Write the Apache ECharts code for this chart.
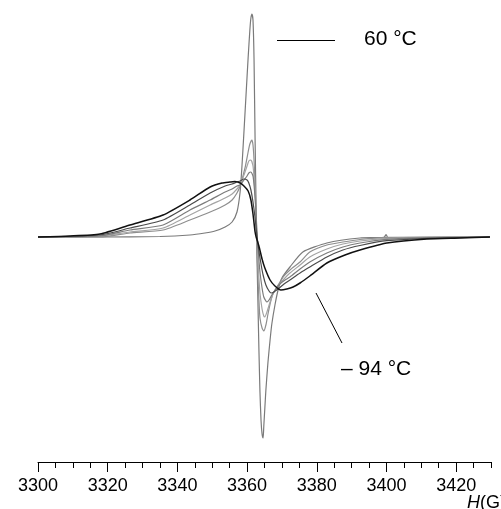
<!DOCTYPE html>
<html>
<head>
<meta charset="utf-8">
<script src="https://cdn.jsdelivr.net/npm/echarts@6/dist/echarts.min.js"></script>
<style>
  html, body { margin: 0; padding: 0; background: #fff; }
  #chart { width: 501px; height: 509px; }
</style>
</head>
<body>
<div id="chart"></div>
<script>
// EPR first-derivative spectra, magnetic field H in gauss vs. signal (arb. units)

// Tick positions on the field axis
const majorTicks = [3300, 3320, 3340, 3360, 3380, 3400, 3420];
const minorTicks = [3305, 3310, 3315, 3325, 3330, 3335, 3345, 3350, 3355,
                    3365, 3370, 3375, 3385, 3390, 3395, 3405, 3410, 3415, 3425, 3430];

// 60 °C – narrowest line
const field60 = [3300, 3317.8, 3335.0, 3343.6, 3347.9, 3350.8, 3353.7, 3355.7, 3357.1, 3358.0,
  3358.5, 3359.1, 3359.7, 3360.3, 3360.8, 3361.1, 3361.4, 3361.7, 3362.0, 3362.3,
  3362.6, 3362.8, 3363.1, 3363.4, 3363.7, 3364.0, 3364.3, 3364.6, 3364.8, 3365.1,
  3365.4, 3366.0, 3366.6, 3367.1, 3368.0, 3368.9, 3370.0, 3372.3, 3376.0, 3382.9,
  3392.4, 3399.3, 3399.9, 3400.4, 3403.9, 3429.7];
const signal60 = [0, 0, 0.5, 2, 4, 6, 10, 15, 25, 45,
  69, 105, 142, 179, 207, 219, 223, 217, 177, 97,
  27, -13, -63, -113, -155, -183, -197, -201, -189, -171,
  -153, -125, -103, -87, -68, -53, -41, -30, -15, -6,
  -1, -0.3, 2.5, -0.5, -0.5, 0];

// intermediate temperatures
const fieldT2 = [3300, 3317.8, 3326.4, 3335.9, 3343.6, 3349.4, 3353.7, 3355.7, 3357.1, 3358.0,
  3359.4, 3360.3, 3360.8, 3361.4, 3361.7, 3362.0, 3362.3, 3362.6, 3362.8, 3363.1,
  3363.4, 3363.7, 3364.3, 3364.8, 3365.4, 3366.0, 3366.6, 3367.4, 3368.9, 3370.6,
  3372.3, 3375.2, 3378.0, 3382.9, 3387.5, 3392.4, 3400.1, 3412.5, 3429.7];
const signalT2 = [0, 0, 4, 7, 17, 25, 32, 37, 44, 51,
  69, 85, 93, 97, 92, 77, 52, 22, -8, -38,
  -63, -81, -91, -94, -88, -77, -67, -57, -48, -39,
  -33, -25, -15, -8, -5, -2.5, -0.3, 0, 0];

const fieldT3 = [3300, 3317.8, 3326.4, 3335.9, 3343.6, 3349.4, 3353.7, 3355.7, 3357.1, 3358.0,
  3359.1, 3360.0, 3360.5, 3361.1, 3361.7, 3362.0, 3362.3, 3362.6, 3362.8, 3363.1,
  3363.4, 3363.7, 3364.3, 3364.8, 3365.1, 3365.7, 3366.6, 3367.7, 3368.9, 3370.6,
  3372.3, 3375.2, 3378.0, 3382.9, 3387.5, 3392.4, 3400.1, 3412.5, 3429.7];
const signalT3 = [0, 1, 5, 9, 22, 32, 39, 43, 48, 52,
  62, 71, 76, 77, 71, 59, 42, 22, 1, -21,
  -41, -56, -72, -79, -80, -75, -65, -55, -49, -42,
  -36, -28, -20, -12, -7, -4, -1.3, -0.3, 0];

const fieldT4 = [3300, 3317.8, 3326.4, 3335.9, 3343.6, 3349.4, 3353.7, 3355.7, 3357.1, 3358.0,
  3359.1, 3360.0, 3360.5, 3361.1, 3361.7, 3362.0, 3362.3, 3362.6, 3362.8, 3363.1,
  3363.4, 3363.7, 3364.3, 3364.8, 3365.4, 3365.7, 3366.3, 3367.1, 3368.3, 3369.4,
  3370.9, 3372.3, 3375.2, 3378.0, 3382.9, 3387.5, 3392.4, 3400.1, 3412.5, 3429.7];
const signalT4 = [0, 1, 7, 12, 27, 37, 45, 48, 51, 52,
  57, 61, 64, 65, 61, 52, 39, 23, 7, -9,
  -23, -35, -51, -60, -64, -65, -63, -58, -52, -47,
  -43, -40, -32, -25, -16, -10, -6, -2.3, -0.6, 0];

const fieldT5 = [3300, 3317.8, 3326.4, 3335.9, 3343.6, 3349.4, 3353.7, 3355.7, 3357.1, 3358.0,
  3359.1, 3360.0, 3360.5, 3361.1, 3361.7, 3362.3, 3362.8, 3363.4, 3364.0, 3364.6,
  3365.4, 3366.3, 3366.9, 3367.7, 3368.9, 3370.6, 3372.3, 3375.2, 3378.0, 3382.9,
  3387.5, 3392.4, 3400.1, 3412.5, 3429.7];
const signalT5 = [0, 2, 9, 17, 32, 44, 51, 53, 55, 56,
  58, 57, 54, 47, 35, 19, 2, -14, -27, -38,
  -48, -54, -56, -55, -52, -47, -43, -36, -30, -20,
  -13, -8.5, -3.7, -1.3, 0];

// −94 °C – broadest line
const fieldM94 = [3300, 3309.2, 3317.8, 3326.4, 3335.9, 3343.6, 3349.4, 3352.8, 3355.1, 3356.5,
  3358.0, 3359.1, 3360.3, 3361.1, 3361.7, 3362.3, 3362.6, 3363.4, 3364.3, 3365.1,
  3366.6, 3368.0, 3369.7, 3371.4, 3373.2, 3375.2, 3378.0, 3382.9, 3388.1, 3392.4,
  3400.1, 3411.6, 3421.1, 3429.7];
const signalM94 = [0, 1, 3, 12, 22, 37, 50, 54, 55, 55.5,
  54, 51, 46, 37, 23, 5, 0, -9, -22, -31,
  -43, -49, -53, -52, -50, -46, -39, -26, -18, -13,
  -6, -2, -1, 0];

const spectra = [
  { name: '60 °C',  field: field60,  signal: signal60,  color: '#7a7a7a', width: 1.2 },
  { name: 'T2',     field: fieldT2,  signal: signalT2,  color: '#8e8e8e', width: 1.2 },
  { name: 'T3',     field: fieldT3,  signal: signalT3,  color: '#a4a4a4', width: 1.2 },
  { name: 'T4',     field: fieldT4,  signal: signalT4,  color: '#7c7c7c', width: 1.2 },
  { name: 'T5',     field: fieldT5,  signal: signalT5,  color: '#4a4a4a', width: 1.2 },
  { name: '−94 °C', field: fieldM94, signal: signalM94, color: '#111111', width: 1.5 }
];

const FONT = 'Liberation Sans, Arial, sans-serif';

const chart = echarts.init(document.getElementById('chart'), null, { renderer: 'canvas' });

chart.setOption({
  animation: false,
  backgroundColor: '#ffffff',
  grid: { left: 38, right: 10, top: 12, bottom: 47, containLabel: false },
  xAxis: [
    {
      type: 'value', min: 3300, max: 3430, interval: 20, position: 'bottom',
      axisLine: { show: true, onZero: false, lineStyle: { color: '#000', width: 1 } },
      axisTick: { show: true, length: 10, inside: false, customValues: majorTicks,
                  lineStyle: { color: '#000', width: 1 } },
      axisLabel: { show: true, margin: 15, color: '#000', fontSize: 18, fontFamily: FONT,
                   customValues: majorTicks,
                   formatter: v => (majorTicks.indexOf(v) >= 0 ? String(v) : '') },
      splitLine: { show: false }
    },
    {
      type: 'value', min: 3300, max: 3430, interval: 5, gridIndex: 0, position: 'bottom',
      axisLine: { show: false, onZero: false },
      axisTick: { show: true, length: 6, customValues: minorTicks,
                  lineStyle: { color: '#000', width: 1 } },
      axisLabel: { show: false },
      splitLine: { show: false }
    }
  ],
  yAxis: { type: 'value', min: -225, max: 225, show: false },
  series: spectra.map(s => ({
    name: s.name,
    type: 'line',
    xAxisIndex: 0,
    showSymbol: false,
    smooth: 0.2,
    lineStyle: { color: s.color, width: s.width },
    data: s.field.map((h, i) => [h, s.signal[i]])
  })),
  graphic: [
    { type: 'line', shape: { x1: 277, y1: 40.5, x2: 335, y2: 40.5 }, style: { stroke: '#000', lineWidth: 1 } },
    { type: 'text', x: 364, y: 39, style: { text: '60 °C', font: '21px ' + FONT, fill: '#000',
      textVerticalAlign: 'middle', verticalAlign: 'middle' } },
    { type: 'line', shape: { x1: 316, y1: 293, x2: 342, y2: 343 }, style: { stroke: '#000', lineWidth: 1 } },
    { type: 'text', x: 341, y: 369, style: { text: '– 94 °C', font: '21px ' + FONT, fill: '#000',
      textVerticalAlign: 'middle', verticalAlign: 'middle' } },
    { type: 'text', x: 467, y: 503, style: {
      text: '{i|H}(G)', font: '18px ' + FONT, fill: '#000', verticalAlign: 'middle',
      rich: { i: { fontStyle: 'italic', fontSize: 18, fontFamily: FONT, fill: '#000' } } } }
  ]
});
</script>
</body>
</html>
